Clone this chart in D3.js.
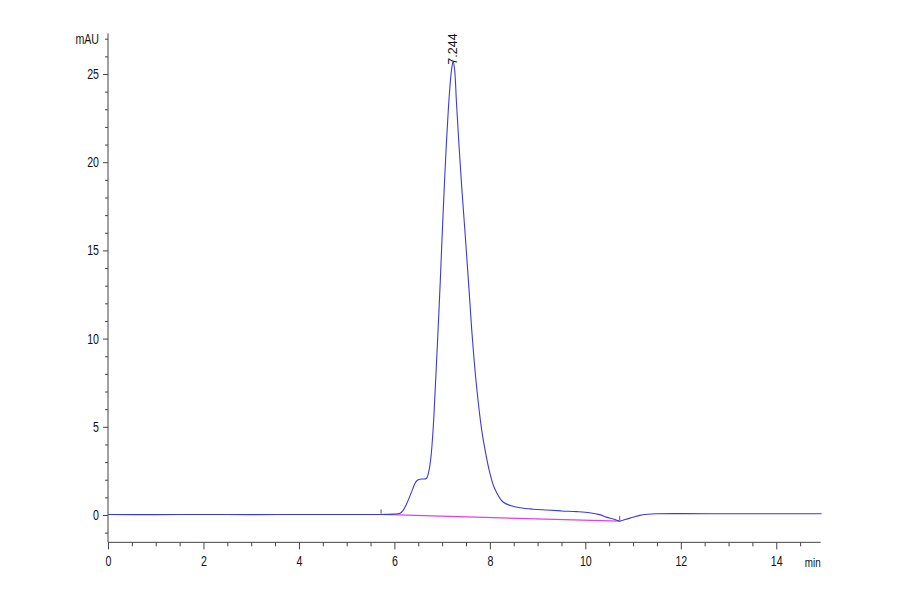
<!DOCTYPE html>
<html>
<head>
<meta charset="utf-8">
<script src="https://cdn.jsdelivr.net/npm/d3@7"></script>
<style>
  html, body { margin: 0; padding: 0; background: #fff; }
  svg { display: block; }
  .tick text, .lbl { font-family: "Liberation Sans", Arial, sans-serif; font-size: 14px; fill: #111; }
</style>
</head>
<body>
<svg id="chart" width="900" height="594"></svg>
<script>
// ---- data ----
const timeMin = [0, 1, 2, 3, 4, 5, 5.72, 5.97, 6.12, 6.18, 6.25, 6.32, 6.38, 6.43, 6.48, 6.53, 6.6, 6.67, 6.71, 6.74, 6.77, 6.81, 6.86, 6.91, 6.96, 7.0, 7.04, 7.09, 7.13, 7.17, 7.2, 7.23, 7.26, 7.3, 7.35, 7.41, 7.48, 7.55, 7.62, 7.71, 7.83, 7.92, 8.0, 8.1, 8.27, 8.45, 8.63, 8.9, 9.19, 9.5, 9.82, 10.09, 10.3, 10.44, 10.6, 10.72, 10.85, 11.0, 11.14, 11.3, 11.49, 12, 13, 14, 14.95];
const absorbance = [0.03, 0.02, 0.03, 0.02, 0.03, 0.03, 0.03, 0.05, 0.1, 0.25, 0.6, 1.04, 1.45, 1.79, 1.97, 2.03, 2.04, 2.07, 2.35, 2.75, 3.4, 4.8, 7.4, 10.2, 13.2, 15.8, 18.3, 21.1, 23.0, 24.5, 25.3, 25.7, 25.3, 23.4, 21.1, 18.6, 16.0, 13.3, 10.5, 7.6, 4.8, 3.4, 2.38, 1.5, 0.75, 0.52, 0.41, 0.33, 0.28, 0.23, 0.19, 0.13, 0.02, -0.12, -0.24, -0.35, -0.24, -0.13, -0.02, 0.04, 0.07, 0.08, 0.07, 0.07, 0.07];
const baselineTime = [5.72, 10.72];
const baselineValue = [0.03, -0.35];
const peakTime = 7.244;
const peakLabel = "7.244";
const xMajorTicks = [0, 2, 4, 6, 8, 10, 12, 14];
const yMajorTicks = [0, 5, 10, 15, 20, 25];
const xUnit = "min";
const yUnit = "mAU";

// ---- layout ----
const svg = d3.select("#chart");
const x = d3.scaleLinear().domain([0, 15]).range([108, 824]);
const y = d3.scaleLinear().domain([0, 25]).range([515, 74]);
const axisColor = "#444";
const xAxisY = y(-1.55);
const yAxisX = x(0);
const sx = 0.76; // narrow lettering

const xTicksAll = d3.range(0, 14.6, 0.5);
const yTicksAll = d3.range(-1, 28, 1);

// X axis
const gx = svg.append("g").attr("transform", `translate(0,${xAxisY})`);
gx.call(d3.axisBottom(x).tickValues(xTicksAll).tickSize(4)
  .tickFormat(d => xMajorTicks.includes(d) ? d3.format("d")(d) : ""));
gx.select(".domain").remove();
gx.selectAll(".tick line").attr("stroke", axisColor)
  .attr("y2", d => xMajorTicks.includes(d) ? 7 : 4);
gx.selectAll(".tick text").attr("dy", "0.71em").attr("y", 14)
  .attr("transform", `scale(${sx},1)`);
svg.append("line").attr("x1", x(0)).attr("x2", x(14.93))
  .attr("y1", xAxisY).attr("y2", xAxisY).attr("stroke", axisColor).attr("stroke-width", 1);
svg.append("text").attr("class", "lbl")
  .attr("transform", `translate(${x(14.93)},${xAxisY + 25}) scale(${sx},1)`)
  .attr("text-anchor", "end").style("font-size", "13px").text(xUnit);

// Y axis
const gy = svg.append("g").attr("transform", `translate(${yAxisX},0)`);
gy.call(d3.axisLeft(y).tickValues(yTicksAll).tickSize(3)
  .tickFormat(d => yMajorTicks.includes(d) ? d3.format("d")(d) : (d === 27 ? yUnit : "")));
gy.select(".domain").remove();
gy.selectAll(".tick line").attr("stroke", axisColor)
  .attr("x2", d => yMajorTicks.includes(d) ? -5 : -3);
gy.selectAll(".tick text").attr("x", -9 / sx)
  .attr("transform", `scale(${sx},1)`);
svg.append("line").attr("x1", yAxisX).attr("x2", yAxisX)
  .attr("y1", y(27.3)).attr("y2", xAxisY).attr("stroke", axisColor).attr("stroke-width", 1);

// integration baseline
const baseData = baselineTime.map((t, i) => [t, baselineValue[i]]);
svg.append("path").datum(baseData)
  .attr("d", d3.line().x(d => x(d[0])).y(d => y(d[1])))
  .attr("fill", "none").attr("stroke", "#e63ee6").attr("stroke-width", 1.3);

// chromatogram
const sig = timeMin.map((t, i) => [t, absorbance[i]]);
svg.append("path").datum(sig)
  .attr("d", d3.line().curve(d3.curveCatmullRom.alpha(0.5)).x(d => x(d[0])).y(d => y(d[1])))
  .attr("fill", "none").attr("stroke", "#3b3bd6").attr("stroke-width", 1.1);

// peak start / end markers
baseData.forEach(d => {
  svg.append("line").attr("x1", x(d[0])).attr("x2", x(d[0]))
    .attr("y1", y(d[1]) - 5).attr("y2", y(d[1]) - 1)
    .attr("stroke", "#555").attr("stroke-width", 1);
});

// peak label
svg.append("text").attr("class", "lbl")
  .attr("transform", `translate(${x(peakTime) + 3},${y(25.7) + 3}) rotate(-90)`)
  .attr("text-anchor", "start").style("font-size", "12.5px").text(peakLabel);
</script>
</body>
</html>
